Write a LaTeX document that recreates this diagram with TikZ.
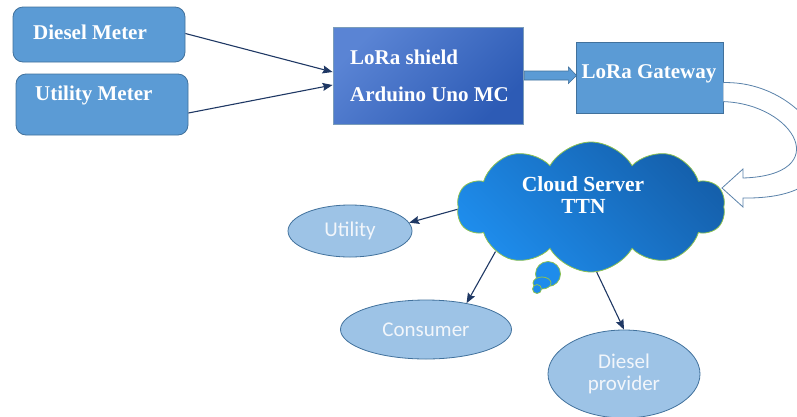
\documentclass[tikz,border=0pt]{standalone}
\usepackage{fontspec}
\setmainfont{Liberation Serif}
\newfontfamily\calib{Carlito}
\usetikzlibrary{shapes.symbols,shapes.geometric,arrows.meta,calc}
\definecolor{boxblue}{HTML}{5B9BD5}
\definecolor{boxline}{HTML}{41719C}
\definecolor{navy}{HTML}{1F3864}
\definecolor{ellfill}{HTML}{9DC3E6}
\definecolor{elltext}{HTML}{F2F6FB}
\definecolor{shieldA}{HTML}{5A84D4}
\definecolor{shieldB}{HTML}{2D5BB5}
\definecolor{cloudA}{HTML}{1E8CEB}
\definecolor{cloudB}{HTML}{1560AC}
\definecolor{cloudline}{HTML}{8CC152}
\definecolor{hollowline}{HTML}{5A82AA}
\begin{document}
\begin{tikzpicture}[x=1pt,y=-1pt,
  meter/.style={draw=boxline, fill=boxblue, rounded corners=10pt, line width=0.8pt, inner sep=0},
  plainbox/.style={draw=boxline, fill=boxblue, line width=0.8pt, inner sep=0},
  shieldbox/.style={draw=boxline!70, top color=shieldA, bottom color=shieldB, shading angle=45, line width=0.8pt, inner sep=0},
  btext/.style={text=white, font=\fontsize{21}{25}\selectfont\bfseries, inner sep=0},
  oval/.style={ellipse, draw=boxline, fill=ellfill, line width=0.8pt, inner sep=0, text=elltext, font=\calib\fontsize{21}{23}\selectfont, align=center},
  conn/.style={draw=navy, line width=1.1pt, -{Stealth[length=10pt,width=8pt,inset=1.5pt]}},
  bubble/.style={draw=cloudline, fill=cloudA, line width=0.8pt}
]
\useasboundingbox (0,0) rectangle (797,416);
\clip (0,0) rectangle (797,416);

% boxes
\node[meter, minimum width=172pt, minimum height=55pt] (dm) at (99,34.5) {};
\node[meter, minimum width=172pt, minimum height=61pt] (um) at (102,104.5) {};
\node[shieldbox, minimum width=190pt, minimum height=97pt] (shield) at (428,75.5) {};
\node[plainbox, minimum width=147pt, minimum height=71pt] (gw) at (649.5,77.5) {};

\node[btext, anchor=base west] (dmt) at (33,39) {Diesel Meter};
\node[btext, anchor=base west] (umt) at (35,100) {Utility Meter};
\node[btext, anchor=base west] (sht1) at (350,64) {LoRa shield};
\node[btext, anchor=base west] (sht2) at (350,101.5) {Arduino Uno MC};
\node[btext, anchor=base] (gwt) at (649,78) {LoRa Gateway};

% block arrow shield -> gateway
\fill[boxblue, draw=boxline, line width=0.6pt]
  ($(shield.east)+(1,-4.5)$) -- ($(shield.east)+(45,-4.5)$) -- ($(shield.east)+(45,-8.5)$)
  -- ($(gw.west)+(1,-2)$) -- ($(shield.east)+(45,8)$) -- ($(shield.east)+(45,4.5)$)
  -- ($(shield.east)+(1,4.5)$) -- cycle;

% hollow curved arrow gateway -> cloud
\filldraw[fill=white, draw=hollowline, line width=0.8pt]
  ($(gw.north east)+(0,41)$) .. controls (815,80) and (880,200) .. (743,198)
  -- (743,207) -- (722,188) -- (743,169) -- (743,178)
  .. controls (835,175) and (795,104) .. ($(gw.north east)+(0,60)$);

% cloud
\node[cloud, cloud puffs=10, cloud puff arc=120, minimum width=268pt, minimum height=130pt,
      draw=cloudline, line width=0.8pt, top color=cloudA, bottom color=cloudB, shading angle=135,
      inner sep=0] (cloud) at (591,207) {};
\draw[bubble] (548,274) circle (12.5pt);
\draw[bubble] (542,283) ellipse [x radius=9pt, y radius=6pt];
\draw[bubble] (537,289) circle (4.5pt);
\node[btext, anchor=base, font=\fontsize{21.5}{25}\selectfont\bfseries] (ct1) at (583,191) {Cloud Server};
\node[btext, anchor=base, font=\fontsize{21.5}{25}\selectfont\bfseries] (ct2) at (583.5,213) {TTN};

% ellipses
\node[oval, minimum width=124pt, minimum height=52pt] (util) at (350,231) {Utility};
\node[oval, minimum width=171pt, minimum height=59pt] (cons) at (426,329.5) {Consumer};
\node[oval, minimum width=152pt, minimum height=88pt] (dp) at (624,374) {Diesel\\[-1pt]provider};

% connectors
\draw[conn] ($(dm.east)+(0,-1)$) -- ($(shield.west)+(0,-3.5)$);
\draw[conn] ($(um.east)+(0,8.5)$) -- ($(shield.west)+(0,9.5)$);
\draw[conn] (cloud.181) -- (util.8);
\draw[conn] (cloud.205) -- (cons.33);
\draw[conn] (cloud.275) -- (dp.north);
\end{tikzpicture}
\end{document}
